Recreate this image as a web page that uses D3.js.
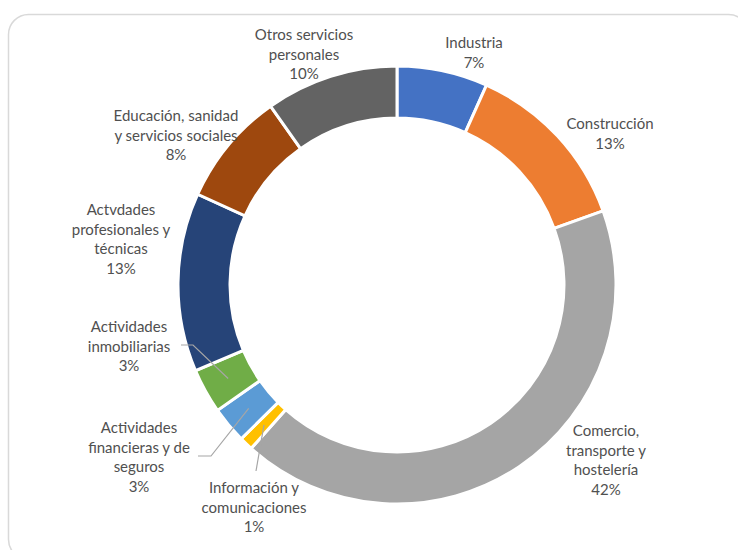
<!DOCTYPE html>
<html>
<head>
<meta charset="utf-8">
<script src="https://cdn.jsdelivr.net/npm/d3@7"></script>
<style>
  html, body { margin: 0; padding: 0; background: #fff; }
  svg { display: block; }
</style>
</head>
<body>
<svg id="chart" width="738" height="550"></svg>
<script>
// sector shares (percent)
var sectors = ["Industria", "Construcción", "Comercio, transporte y hostelería",
  "Información y comunicaciones", "Actividades financieras y de seguros",
  "Actividades inmobiliarias", "Actvdades profesionales y técnicas",
  "Educación, sanidad y servicios sociales", "Otros servicios personales"]
var shares = [6.7, 12.8, 42.1, 1.0, 2.7, 3.3, 13.2, 8.4, 9.8]
var colors = ["#4472C4", "#ED7D31", "#A5A5A5", "#FFC000", "#5B9BD5",
  "#70AD47", "#264478", "#9E480E", "#636363"]

// how each label wraps, like in the original
var labelLines = [
  ["Industria"],
  ["Construcción"],
  ["Comercio,", "transporte y", "hostelería"],
  ["Información y", "comunicaciones"],
  ["Actividades", "financieras y de", "seguros"],
  ["Actividades", "inmobiliarias"],
  ["Actvdades", "profesionales y", "técnicas"],
  ["Educación, sanidad", "y servicios sociales"],
  ["Otros servicios", "personales"]
]
// label placement (center x, first line y) and leader start, layout only
var labelPos = [[474, 42], [610, 123], [606, 430], [254, 487], [139, 427],
  [129, 326], [121, 209], [176, 115], [304, 34]]
var leaders = {3: [[256, 471]], 4: [[198, 456], [211, 456]], 5: [[181, 345], [193, 345]]}

var svg = d3.select("#chart")
var cx = 397, cy = 285, rOut = 219, rIn = 167
var lineH = 19.5

svg.append("rect")
  .attr("x", 8.5).attr("y", 14.5)
  .attr("width", 740).attr("height", 545)
  .attr("rx", 20).attr("ry", 20)
  .attr("fill", "#fff")
  .attr("stroke", "#d9d9d9")
  .attr("stroke-width", 1.5)

var pie = d3.pie().sort(null).value(function(d) { return d })
var arcs = pie(shares)
var arc = d3.arc().innerRadius(rIn).outerRadius(rOut)

var g = svg.append("g").attr("transform", "translate(" + cx + "," + cy + ")")

g.selectAll("path")
  .data(arcs)
  .enter().append("path")
  .attr("d", arc)
  .attr("fill", function(d, i) { return colors[i] })
  .attr("stroke", "#fff")
  .attr("stroke-width", 3)

// leader lines for the small slices
Object.keys(leaders).forEach(function(k) {
  var c = arc.centroid(arcs[k])
  var pts = leaders[k].concat([[c[0] + cx, c[1] + cy]])
  svg.append("path")
    .attr("d", d3.line()(pts))
    .attr("fill", "none")
    .attr("stroke", "#A6A6A6")
    .attr("stroke-width", 1.2)
})

var labels = svg.append("g")
  .attr("font-family", "Lato, 'Open Sans', sans-serif")
  .attr("font-size", "15px")
  .attr("fill", "#505050")
  .attr("text-anchor", "middle")

arcs.forEach(function(d, i) {
  var lines = labelLines[i].concat([Math.round(d.value) + "%"])
  var t = labels.append("text")
    .attr("x", labelPos[i][0])
    .attr("y", labelPos[i][1])
    .attr("dominant-baseline", "central")
  lines.forEach(function(s, j) {
    t.append("tspan")
      .attr("x", labelPos[i][0])
      .attr("dy", j == 0 ? 0 : lineH)
      .text(s)
  })
})
</script>
</body>
</html>
